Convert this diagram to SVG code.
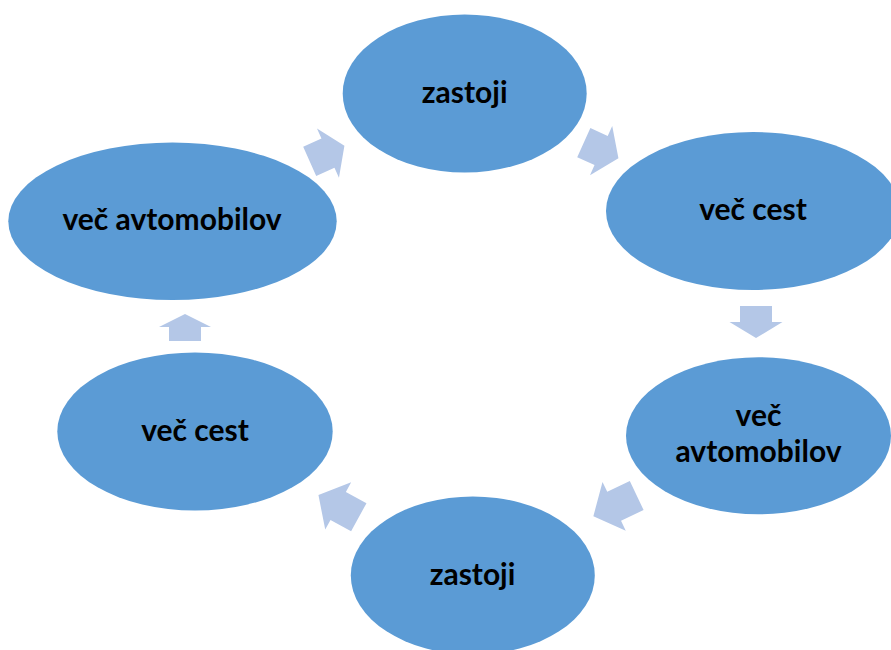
<svg xmlns="http://www.w3.org/2000/svg" width="891" height="650" viewBox="0 0 891 650">
<style>
.node{fill:#5B9BD5;}
.lbl{font-family:Lato,"Open Sans","Liberation Sans",sans-serif;font-weight:700;font-size:30px;fill:#000;text-anchor:middle;}
.arr{fill:#B4C7E7;}
</style>
<rect width="891" height="650" fill="#fff"/>
<g id="connectors">
<polygon class="arr" transform="translate(309.7,161.3) rotate(-24)" points="0,-16 20,-16 20,-27 38,0 20,27 20,16 0,16"/>
<polygon class="arr" transform="translate(583.8,142.7) rotate(24.3)" points="0,-16 19,-16 19,-27 38,0 19,27 19,16 0,16"/>
<polygon class="arr" transform="translate(756,306) rotate(90)" points="0,-16 16,-16 16,-26.5 32,0 16,26.5 16,16 0,16"/>
<polygon class="arr" transform="translate(636.7,495.5) rotate(154.5)" points="0,-16 25,-16 25,-27 48,0 25,27 25,16 0,16"/>
<polygon class="arr" transform="translate(358.8,517.2) rotate(-151.3)" points="0,-16 23.5,-16 23.5,-27 46,0 23.5,27 23.5,16 0,16"/>
<polygon class="arr" transform="translate(185,341) rotate(-90)" points="0,-16 14,-16 14,-26 27,0 14,26 14,16 0,16"/>
</g>
<g id="n1"><ellipse class="node" cx="464.7" cy="93.5" rx="122" ry="79"/><text class="lbl" x="464.7" y="103">zastoji</text></g>
<g id="n2"><ellipse class="node" cx="753" cy="211" rx="147" ry="79"/><text class="lbl" x="753" y="220">več cest</text></g>
<g id="n3"><ellipse class="node" cx="758.5" cy="435.7" rx="132.5" ry="78.5"/><text class="lbl" x="758.5" y="426">več</text><text class="lbl" x="758.5" y="462">avtomobilov</text></g>
<g id="n4"><ellipse class="node" cx="472.8" cy="575.5" rx="122" ry="79"/><text class="lbl" x="472.5" y="585">zastoji</text></g>
<g id="n5"><ellipse class="node" cx="195" cy="431.5" rx="137.7" ry="79"/><text class="lbl" x="195" y="441">več cest</text></g>
<g id="n6"><ellipse class="node" cx="172.5" cy="221.3" rx="164.2" ry="78.7"/><text class="lbl" x="172" y="230">več avtomobilov</text></g>
</svg>
